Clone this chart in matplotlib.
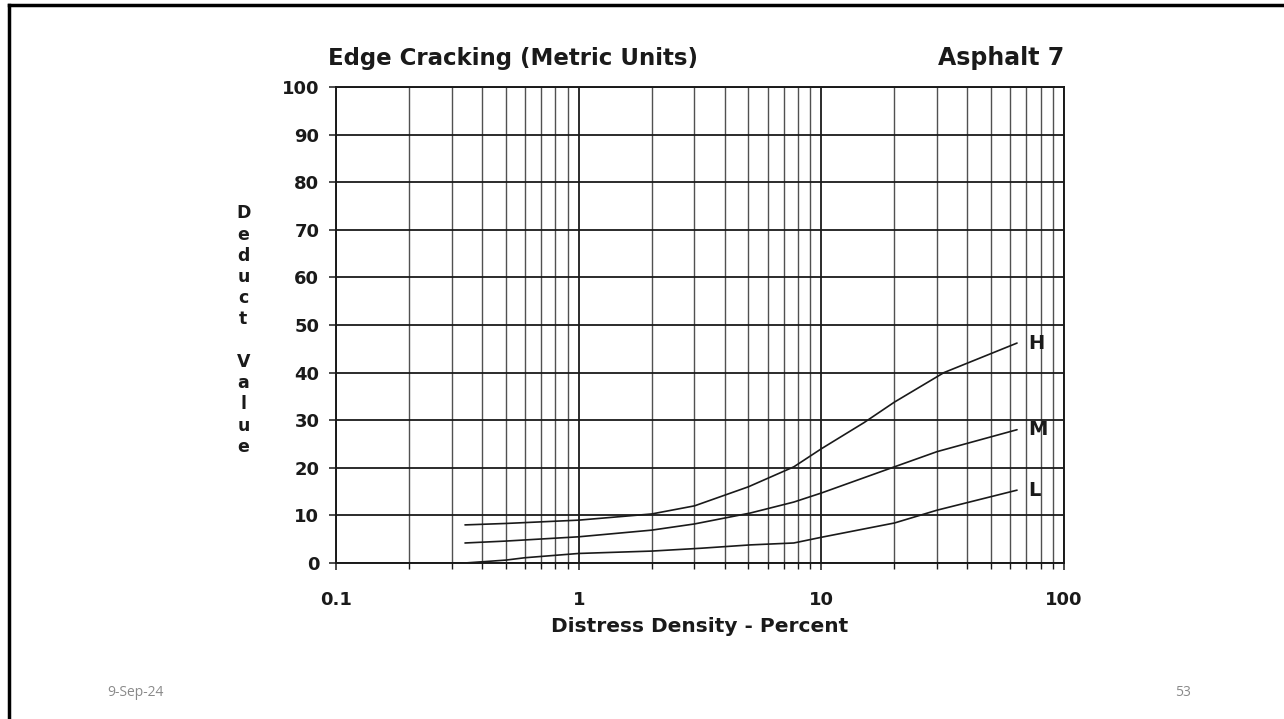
import matplotlib
matplotlib.use("Agg")
import matplotlib.pyplot as plt
from matplotlib.lines import Line2D
from matplotlib.ticker import LogLocator, FixedLocator, NullFormatter

# deduct curves for edge cracking, by severity level
density_h = [0.34, 0.5, 1, 2, 3, 5, 7.7, 10, 15, 20, 32, 64]
deduct_h = [8, 8.3, 9, 10.3, 12, 16, 20.2, 24, 29.5, 33.8, 40, 46.2]

density_m = [0.34, 0.5, 1, 2, 3, 5.1, 7.7, 10, 20, 30, 64]
deduct_m = [4.2, 4.6, 5.5, 6.9, 8.2, 10.5, 12.8, 14.7, 20.2, 23.4, 28]

density_l = [0.34, 0.5, 0.6, 1, 2, 3.2, 5.1, 7.7, 10, 20, 30, 64]
deduct_l = [0, 0.6, 1.1, 2, 2.5, 3.1, 3.8, 4.2, 5.4, 8.4, 11.1, 15.3]

severity = ["H", "M", "L"]
x_ticks = [0.1, 1, 10, 100]
x_tick_labels = ["0.1", "1", "10", "100"]
y_ticks = list(range(0, 101, 10))

plt.rcParams["font.family"] = ["DejaVu Sans"]
ink = "#1a1a1a"

fig = plt.figure(figsize=(12.84, 7.19), dpi=100)
ax = fig.add_axes([0.2617, 0.2170, 0.567, 0.662])

ax.set_xscale("log")
ax.set_xlim(0.1, 100)
ax.set_ylim(0, 100)

ax.xaxis.set_major_locator(FixedLocator(x_ticks))
ax.set_xticklabels(x_tick_labels)
ax.xaxis.set_minor_locator(LogLocator(base=10, subs=range(2, 10)))
ax.xaxis.set_minor_formatter(NullFormatter())
ax.set_yticks(y_ticks)
ax.set_yticklabels([str(v) for v in y_ticks])

ax.grid(True, which="major", color=ink, lw=1.3)
ax.grid(True, which="minor", axis="x", color="#333333", lw=1.0, alpha=0.85)
ax.tick_params(axis="both", which="major", direction="out", length=5,
               width=1.1, color=ink, labelsize=13, labelcolor=ink)
ax.tick_params(axis="x", which="major", pad=15)
ax.tick_params(axis="y", which="major", pad=7)
ax.tick_params(axis="x", which="minor", direction="out", length=4,
               width=1.0, color=ink)
for lbl in ax.get_xticklabels() + ax.get_yticklabels():
    lbl.set_fontweight("bold")
for sp in ax.spines.values():
    sp.set_color(ink)
    sp.set_linewidth(1.4)

for xs, ys, name in zip([density_h, density_m, density_l],
                        [deduct_h, deduct_m, deduct_l], severity):
    ax.plot(xs, ys, color=ink, lw=1.2, solid_capstyle="round")
    ax.text(xs[-1] * 1.11, ys[-1], name, fontsize=14, fontweight="bold",
            color=ink, ha="left", va="center")

ax.set_xlabel("Distress Density - Percent", fontsize=14.5, fontweight="bold",
              color=ink, labelpad=6)

fig.text(0.2555, 0.919, "Edge Cracking (Metric Units)", fontsize=16.5,
         color=ink, ha="left", va="center", fontweight="bold")
fig.text(0.8285, 0.919, "Asphalt 7", fontsize=17, color=ink,
         ha="right", va="center", fontweight="bold")

# stacked vertical axis title
fig.text(0.1895, 0.541, "\n".join("Deduct Value"), fontsize=12.5,
         fontweight="bold", color=ink, ha="center", va="center",
         linespacing=1.23)

# slide frame and footer
fig.add_artist(Line2D([0.007, 0.007], [0.0, 0.993], transform=fig.transFigure,
                      color="black", lw=2.5))
fig.add_artist(Line2D([0.007, 1.0], [0.993, 0.993], transform=fig.transFigure,
                      color="black", lw=2.5))
fig.text(0.0835, 0.037, "9-Sep-24", fontsize=10, color="#8a8a8a",
         family="Open Sans", ha="left", va="center")
fig.text(0.9150, 0.037, "53", fontsize=10, color="#8a8a8a",
         family="Open Sans", ha="left", va="center")

fig.savefig("out.png", dpi=100, facecolor="white")
